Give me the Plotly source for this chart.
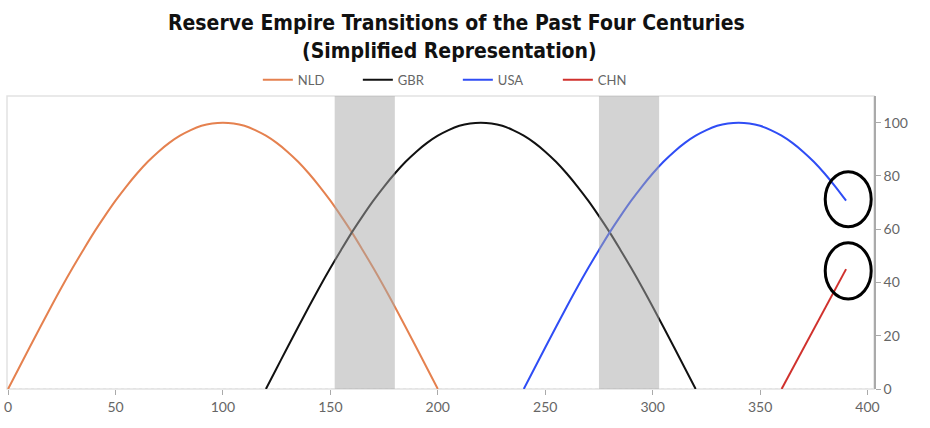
"""
Reserve empire transitions chart
"""

import plotly.graph_objects as go

# 데이터
nld_x = [0, 5, 10, 15, 20, 25, 30, 35, 40, 45, 50, 55, 60, 65, 70, 75, 80, 85, 90, 95, 100,
         105, 110, 115, 120, 125, 130, 135, 140, 145, 150, 155, 160, 165, 170, 175, 180, 185, 190, 195, 200]
nld_y = [0, 7.8, 15.6, 23.3, 30.9, 38.3, 45.4, 52.2, 58.8, 64.9, 70.7, 76.0, 80.9, 85.3, 89.1, 92.4, 95.1, 97.2, 98.8, 99.7, 100,
         99.7, 98.8, 97.2, 95.1, 92.4, 89.1, 85.3, 80.9, 76.0, 70.7, 64.9, 58.8, 52.2, 45.4, 38.3, 30.9, 23.3, 15.6, 7.8, 0]

gbr_x = [120, 125, 130, 135, 140, 145, 150, 155, 160, 165, 170, 175, 180, 185, 190, 195, 200, 205, 210, 215, 220,
         225, 230, 235, 240, 245, 250, 255, 260, 265, 270, 275, 280, 285, 290, 295, 300, 305, 310, 315, 320]
gbr_y = [0, 7.8, 15.6, 23.3, 30.9, 38.3, 45.4, 52.2, 58.8, 64.9, 70.7, 76.0, 80.9, 85.3, 89.1, 92.4, 95.1, 97.2, 98.8, 99.7, 100,
         99.7, 98.8, 97.2, 95.1, 92.4, 89.1, 85.3, 80.9, 76.0, 70.7, 64.9, 58.8, 52.2, 45.4, 38.3, 30.9, 23.3, 15.6, 7.8, 0]

usa_x = [240, 245, 250, 255, 260, 265, 270, 275, 280, 285, 290, 295, 300, 305, 310, 315, 320, 325, 330, 335, 340,
         345, 350, 355, 360, 365, 370, 375, 380, 385, 390]
usa_y = [0, 7.8, 15.6, 23.3, 30.9, 38.3, 45.4, 52.2, 58.8, 64.9, 70.7, 76.0, 80.9, 85.3, 89.1, 92.4, 95.1, 97.2, 98.8, 99.7, 100,
         99.7, 98.8, 97.2, 95.1, 92.4, 89.1, 85.3, 80.9, 76.0, 70.7]

chn_x = [360, 390]
chn_y = [0, 45]

# 전환기 구간
bands = [(152, 180), (275, 303)]

x_ticks = [0, 50, 100, 150, 200, 250, 300, 350, 400]
y_ticks = [0, 20, 40, 60, 80, 100]

title_lines = ['Reserve Empire Transitions of the Past Four Centuries', '(Simplified Representation)']

fig = go.Figure()

series = [
    ('NLD', nld_x, nld_y, '#E5814F'),
    ('GBR', gbr_x, gbr_y, '#111111'),
    ('USA', usa_x, usa_y, '#2F4DF5'),
    ('CHN', chn_x, chn_y, '#D0312D'),
]
for name, xs, ys, color in series:
    fig.add_trace(go.Scatter(
        x=xs, y=ys, name=name, mode='lines',
        line=dict(color=color, width=2, shape='spline', smoothing=1.0),
        hoverinfo='skip'
    ))

# 회색 음영 (선 위에 반투명)
for x0, x1 in bands:
    fig.add_shape(type='rect', xref='x', yref='y', x0=x0, x1=x1, y0=0, y1=110,
                  fillcolor='rgba(168,168,168,0.5)', line=dict(width=0), layer='above')

# 원 표시
fig.add_shape(type='circle', xref='x', yref='y', x0=380.3, x1=401.7, y0=60.9, y1=81.6,
              line=dict(color='black', width=3), layer='above')
fig.add_shape(type='circle', xref='x', yref='y', x0=380.3, x1=401.7, y0=33.8, y1=54.9,
              line=dict(color='black', width=3), layer='above')

# 테두리와 0 기준선
fig.add_shape(type='rect', xref='paper', yref='paper', x0=0, x1=1, y0=0, y1=1,
              line=dict(color='#e2e2e2', width=1.5), layer='below')
fig.add_shape(type='line', xref='paper', yref='y', x0=0, x1=1, y0=0, y1=0,
              line=dict(color='#dddddd', width=1, dash='dot'), layer='below')

# 제목 (두 줄)
title_font = dict(family='Liberation Sans Narrow, DejaVu Sans Condensed, Arial Narrow', size=21, color='#111111')
fig.add_annotation(text=f'<b>{title_lines[0]}</b>', xref='paper', yref='paper', x=0.518, y=1.249,
                   xanchor='center', yanchor='middle', showarrow=False, font=title_font)
fig.add_annotation(text=f'<b>{title_lines[1]}</b>', xref='paper', yref='paper', x=0.51, y=1.155,
                   xanchor='center', yanchor='middle', showarrow=False, font=title_font)

fig.update_layout(
    width=930,
    height=428,
    plot_bgcolor='white',
    paper_bgcolor='white',
    font=dict(family='Lato, Open Sans', size=13, color='#555555'),
    margin=dict(l=7, r=56, t=96, b=39, autoexpand=False),
    showlegend=True,
    legend=dict(
        orientation='h', x=0.52, xanchor='center', y=1.055, yanchor='middle',
        font=dict(size=13, color='#666666'), tracegroupgap=0,
        entrywidth=55, entrywidthmode='pixels', bgcolor='rgba(0,0,0,0)'
    ),
    xaxis=dict(
        range=[-0.5, 403], tickvals=x_ticks, showgrid=False, zeroline=False,
        ticks='outside', ticklen=5, tickcolor='#aaaaaa', showline=False, automargin=False,
        tickfont=dict(size=14, color='#666666')
    ),
    yaxis=dict(
        range=[0, 110], tickvals=y_ticks, side='right', showgrid=False, zeroline=False,
        ticks='outside', ticklen=5, tickcolor='#aaaaaa', showline=True, linecolor='#aaaaaa',
        linewidth=1.5, automargin=False, tickfont=dict(size=14, color='#666666')
    )
)

# 페이지 기본 여백 제거, 모드바 숨김
fig.write_html('out.html', config={'displayModeBar': False},
               post_script="document.body.style.margin='0';")
